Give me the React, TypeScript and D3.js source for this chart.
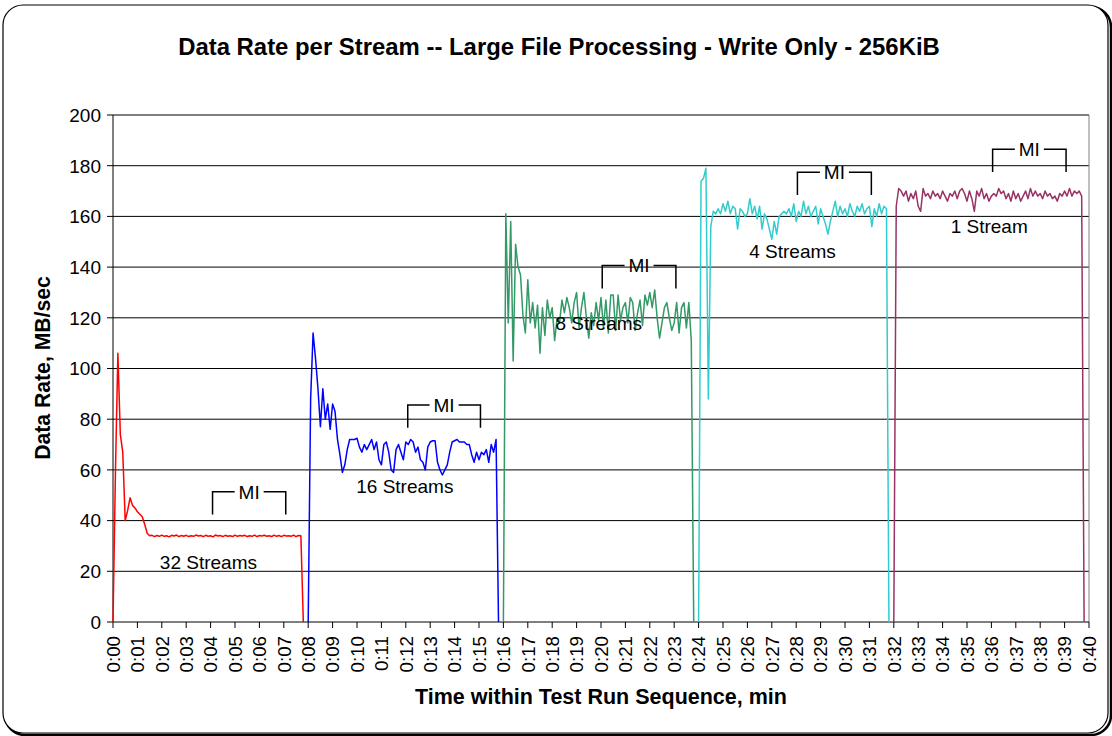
import React from "react";
import * as d3 from "d3";

// ---- Data (MB/sec per 0.1-minute sample) ----
const seriesNames = ["32 Streams", "16 Streams", "8 Streams", "4 Streams", "1 Stream"];
const seriesStartMin = [0, 8, 16, 24, 32];
const sampleStepMin = 0.1;
const seriesColors = ["#FF0000", "#0000FF", "#339966", "#33CCCC", "#993366"];

const red32 = [
  0, 59, 106, 74, 67, 40, 44, 49, 46, 45, 43.5, 42.5, 41.5, 38.5, 35, 34,
  34.2, 33.7, 34.1, 33.8, 34.3, 33.8, 34.0, 33.6, 34.2, 33.9,
  34.3, 33.7, 34.1, 33.8, 34.2, 33.7, 34.0, 33.8, 34.3, 33.9,
  34.1, 33.7, 34.2, 33.8, 34.0, 33.6, 34.3, 33.9, 34.1, 33.7,
  34.2, 33.8, 34.0, 33.7, 34.3, 33.8, 34.1, 33.9, 34.2, 33.7,
  34.0, 33.8, 34.3, 33.7, 34.1, 33.9, 34.2, 33.8, 34.0, 33.7,
  34.3, 33.8, 34.1, 33.7, 34.2, 33.9, 34.0, 33.8, 34.3, 33.7,
  34.1, 34.0,
  0,
];

const blue16 = [
  0, 88, 114, 104, 92, 77, 92, 80, 86, 76,
  86, 83, 72, 66, 59, 62, 68, 72, 72, 72,
  72.5, 69, 67, 70, 68, 70, 72, 68, 71, 64,
  62, 70, 71, 67, 60, 59, 68, 70, 67, 64,
  71, 70, 72, 71, 67, 69, 64, 63, 60, 69,
  71, 71.5, 71.5, 63, 60, 58, 60, 62, 67, 71,
  71.5, 72, 71, 71, 71, 70, 70, 66, 63, 67,
  64, 67, 66, 68, 63, 70, 67, 72, 0,
];

const green8 = [
  0, 161, 118, 158, 103, 149, 140, 137, 121, 114,
  135, 118, 126, 116, 125, 106, 124, 113, 127, 120,
  124, 111, 120, 118, 127, 122, 128, 124, 118, 126,
  130, 116, 124, 130, 120, 112, 122, 117, 126, 119,
  128, 116, 127, 114, 129, 129, 115, 129, 119, 124,
  126, 118, 128, 126, 115, 122, 127, 117, 129, 125,
  130, 124, 131, 120, 112, 118, 124, 126, 120, 115,
  118, 126, 114, 124, 126, 116, 126, 111, 0,
];

const cyan4 = [
  0, 174, 175, 179, 88, 156, 162, 161, 163, 161,
  165, 162, 166, 161, 164, 163, 155, 163, 162, 160,
  161, 167, 161, 164, 159, 164, 155, 161, 159, 155,
  151, 158, 153, 160, 161, 162, 161, 163, 160, 165,
  158, 162, 160, 166, 161, 164, 160, 162, 164, 157,
  163, 160, 157, 153, 158, 162, 166, 160, 164, 161,
  163, 160, 165, 162, 160, 164, 162, 165, 161, 163,
  164, 156, 163, 160, 165, 161, 164, 163, 0,
];

const magenta1 = [
  0, 164, 171, 170, 168, 170, 166, 169, 167, 170,
  164, 162, 171, 168, 169, 167, 170, 168, 169, 167,
  170, 168, 166, 169, 168, 170, 167, 170, 171, 169,
  166, 170, 167, 162, 170, 168, 171, 167, 169, 166,
  168, 169, 168, 171, 169, 170, 167, 169, 166, 170,
  167, 169, 166, 168, 170, 167, 171, 168, 170, 168,
  169, 167, 170, 168, 169, 167, 168, 166, 169, 168,
  170, 168, 171, 168, 170, 169, 170, 168, 0,
];

const seriesValues = [red32, blue16, green8, cyan4, magenta1];

// Measurement-interval brackets
const miStartMin = [4.08, 12.08, 20.05, 28.05, 36.05];
const miEndMin = [7.08, 15.06, 23.07, 31.08, 39.06];
const miLevel = [51.4, 85.6, 140.6, 177.4, 186.5];

// Series label positions (minute, baseline value)
const labelMin = [3.91, 11.96, 19.91, 27.85, 35.91];
const labelValue = [20.8, 50.8, 115.2, 143.5, 153.5];

const yTicks = [0, 20, 40, 60, 80, 100, 120, 140, 160, 180, 200];
const xTickMinutes = d3.range(0, 41);
const fmtTick = (m: number) => `0:${m < 10 ? "0" + m : m}`;

const FONT = "'Liberation Sans', Arial, Helvetica, sans-serif";

export default function App() {
  const W = 1112, H = 736;
  const left = 113, right = 1089, top = 115, bottom = 622;
  const x = d3.scaleLinear().domain([0, 40]).range([left, right]);
  const y = d3.scaleLinear().domain([0, 200]).range([bottom, top]);
  const line = d3
    .line<[number, number]>()
    .x((d) => x(d[0]))
    .y((d) => y(d[1]));

  const bracketDrop = 9; // value units
  const gapHalf = 14.5; // px

  return (
    <svg
      width={W}
      height={H}
      style={{ position: "absolute", left: 0, top: 0, background: "#fff" }}
      fontFamily={FONT}
    >
      {/* outer frame with shadow */}
      <rect x={5} y={7} width={1106} height={728} rx={20} fill="none" stroke="#000" strokeWidth={2.5} />
      <rect x={3} y={5} width={1105} height={728} rx={20} fill="#fff" stroke="#000" strokeWidth={1.2} />

      {/* title */}
      <text x={559} y={55} textAnchor="middle" fontSize={23.9} fontWeight="bold" fill="#000">
        Data Rate per Stream -- Large File Processing - Write Only - 256KiB
      </text>

      {/* gridlines */}
      {yTicks.filter((t) => t > 0).map((t) => (
        <line key={"g" + t} x1={left} x2={right} y1={y(t)} y2={y(t)} stroke="#000" strokeWidth={1} />
      ))}
      {/* right plot border */}
      <line x1={right} x2={right} y1={top} y2={bottom} stroke="#808080" strokeWidth={1} />

      {/* y axis */}
      <line x1={left} x2={left} y1={top} y2={bottom} stroke="#000" strokeWidth={1} />
      {yTicks.map((t) => (
        <g key={"yt" + t}>
          <line x1={left - 6} x2={left} y1={y(t)} y2={y(t)} stroke="#000" strokeWidth={1} />
          <text x={101} y={y(t) + 6.8} textAnchor="end" fontSize={19} fill="#000">
            {t}
          </text>
        </g>
      ))}

      {/* x axis */}
      <line x1={left} x2={right} y1={bottom} y2={bottom} stroke="#000" strokeWidth={1} />
      {xTickMinutes.map((m) => (
        <g key={"xt" + m}>
          <line x1={x(m)} x2={x(m)} y1={bottom} y2={bottom + 6} stroke="#000" strokeWidth={1} />
          <text
            transform={`translate(${x(m) + 6.8},${636}) rotate(-90)`}
            textAnchor="end"
            fontSize={18.7}
            fill="#000"
          >
            {fmtTick(m)}
          </text>
        </g>
      ))}

      {/* series */}
      {seriesValues.map((vals, si) => {
        const pts: [number, number][] = vals.map((v, k) => [seriesStartMin[si] + k * sampleStepMin, v]);
        return (
          <path
            key={"s" + si}
            d={line(pts) || ""}
            fill="none"
            stroke={seriesColors[si]}
            strokeWidth={1.5}
            strokeLinejoin="round"
          />
        );
      })}

      {/* MI brackets */}
      {miStartMin.map((s, i) => {
        const x1 = x(s), x2 = x(miEndMin[i]);
        const yl = y(miLevel[i]);
        const yb = y(miLevel[i] - bracketDrop);
        const xc = (x1 + x2) / 2;
        return (
          <g key={"mi" + i} stroke="#000" strokeWidth={1.5} fill="none">
            <path d={`M${x1},${yb}V${yl}H${xc - gapHalf}`} />
            <path d={`M${xc + gapHalf},${yl}H${x2}V${yb}`} />
            <text x={xc} y={yl + 6.8} textAnchor="middle" fontSize={19} fill="#000" stroke="none">
              MI
            </text>
          </g>
        );
      })}

      {/* series labels */}
      {seriesNames.map((n, i) => (
        <text key={"l" + i} x={x(labelMin[i])} y={y(labelValue[i])} textAnchor="middle" fontSize={19} fill="#000">
          {n}
        </text>
      ))}

      {/* axis titles */}
      <text x={601} y={704} textAnchor="middle" fontSize={21.5} fontWeight="bold" fill="#000">
        Time within Test Run Sequence, min
      </text>
      <text
        transform={`translate(49.5,368) rotate(-90)`}
        textAnchor="middle"
        fontSize={21.2}
        fontWeight="bold"
        fill="#000"
      >
        Data Rate, MB/sec
      </text>
    </svg>
  );
}
